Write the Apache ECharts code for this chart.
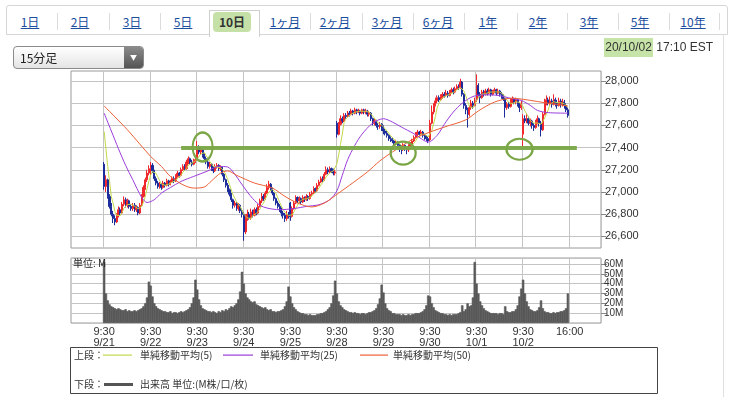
<!DOCTYPE html>
<html>
<head>
<meta charset="utf-8">
<script src="https://cdn.jsdelivr.net/npm/echarts@6/dist/echarts.min.js"></script>
<style>
  * { margin: 0; padding: 0; }
  body { background: #fff; }
  #wrap { position: relative; width: 736px; height: 397px; overflow: hidden; font-family: "Liberation Sans", "Noto Sans CJK JP", sans-serif; }
  #main { position: absolute; left: 0; top: 0; width: 736px; height: 397px; }
  .strip { position: absolute; left: 6px; top: 5px; width: 720px; height: 28px; border: 1px solid #d6d6d6; border-radius: 3px 3px 0 0; background: #fff; }
  .sep { position: absolute; top: 13px; width: 1px; height: 17px; background: #dcdcdc; }
  .act { position: absolute; left: 209px; top: 10px; width: 49px; height: 26px; background: #fff; border: 1px solid #cfcfcf; border-bottom: none; }
  .hl10 { position: absolute; left: 213px; top: 12px; width: 38px; height: 20px; background: rgba(160, 205, 110, .6); border-radius: 4px; }
  .tab { position: absolute; top: 15px; font-size: 12px; line-height: 14px; color: #1d4f9e; text-decoration: underline; transform: translateX(-50%); white-space: nowrap; font-family: "Noto Sans CJK JP", sans-serif; }
  .tab.on { color: #333; text-decoration: none; font-weight: bold; }
  .panel { position: absolute; left: 723px; top: 34px; width: 1px; height: 370px; background: #e0e0e0; }
  .dd { position: absolute; left: 13px; top: 46px; width: 129px; height: 21px; border: 1px solid #8a8a8a; border-radius: 4px; background: linear-gradient(#ffffff, #e4e4e4); font-size: 12px; line-height: 21px; color: #222; font-family: "Noto Sans CJK JP", sans-serif; }
  .dd span { position: absolute; left: 6px; }
  .dd b { position: absolute; right: 0; top: 0; width: 19px; height: 21px; border-radius: 0 3px 3px 0; background: linear-gradient(#8a8a8a, #555); color: #fff; font-size: 7px; text-align: center; line-height: 21px; font-weight: normal; }
  .date { position: absolute; right: 23px; top: 40px; font-size: 12px; line-height: 14px; color: #333; }
  .date span { background: rgba(160, 210, 110, .6); padding: 2px 1px 3px 1px; }
</style>
</head>
<body>
<div id="wrap">
  <div id="main"></div>
  <div class="strip"></div>
  <div class="panel"></div>
  <div class="sep" style="left:57px"></div><div class="sep" style="left:109px"></div>
  <div class="sep" style="left:160px"></div><div class="sep" style="left:310px"></div>
  <div class="sep" style="left:362px"></div><div class="sep" style="left:413px"></div>
  <div class="sep" style="left:464px"></div><div class="sep" style="left:517px"></div>
  <div class="sep" style="left:567px"></div><div class="sep" style="left:618px"></div>
  <div class="sep" style="left:669px"></div><div class="sep" style="left:719px"></div>
  <div class="act"></div>
  <div class="hl10"></div>
  <span class="tab" style="left:30px">1日</span>
  <span class="tab" style="left:80px">2日</span>
  <span class="tab" style="left:132px">3日</span>
  <span class="tab" style="left:183px">5日</span>
  <span class="tab on" style="left:232px">10日</span>
  <span class="tab" style="left:285px">1ヶ月</span>
  <span class="tab" style="left:335px">2ヶ月</span>
  <span class="tab" style="left:387px">3ヶ月</span>
  <span class="tab" style="left:438px">6ヶ月</span>
  <span class="tab" style="left:488px">1年</span>
  <span class="tab" style="left:538px">2年</span>
  <span class="tab" style="left:589px">3年</span>
  <span class="tab" style="left:640px">5年</span>
  <span class="tab" style="left:693px">10年</span>
  <div class="dd"><span>15分足</span><b>▼</b></div>
  <div class="date"><span>20/10/02</span> 17:10 EST</div>
</div>
<script>
  // 日付ラベル(各日 9:30 始まり、15分足 26本)
  var dayLabels = ['9/21', '9/22', '9/23', '9/24', '9/25', '9/28', '9/29', '9/30', '10/1', '10/2'];
  var barsPerDay = 26;
  var padBars = 18;

  // 15分足 [始値, 終値, 安値, 高値]
  var ohlc_0921 = [[27250,27050,27020,27270],[27050,27110,27000,27150],[27110,26960,26940,27120],[26960,26870,26850,26980],[26870,26800,26780,26900],[26800,26760,26720,26830],[26760,26730,26700,26790],[26730,26790,26720,26810],[26790,26840,26770,26870],[26840,26810,26790,26860],[26810,26890,26800,26910],[26890,26930,26870,26960],[26930,26880,26860,26950],[26880,26920,26860,26940],[26920,26870,26850,26930],[26870,26850,26830,26890],[26850,26880,26830,26900],[26880,26840,26820,26900],[26840,26860,26820,26880],[26860,26810,26790,26870],[26810,26880,26800,26900],[26880,26960,26870,26980],[26960,27040,26950,27060],[27040,27110,27020,27130],[27110,27170,27090,27200],[27170,27210,27150,27240]];
  var ohlc_0922 = [[27210,27240,27150,27270],[27240,27190,27170,27260],[27190,27120,27100,27200],[27120,27080,27060,27140],[27080,27050,27030,27100],[27050,27070,27030,27090],[27070,27040,27020,27080],[27040,27080,27030,27100],[27080,27060,27040,27090],[27060,27100,27050,27120],[27100,27070,27050,27110],[27070,27090,27060,27110],[27090,27120,27080,27140],[27120,27100,27080,27140],[27100,27140,27090,27160],[27140,27170,27130,27190],[27170,27150,27130,27180],[27150,27200,27140,27220],[27200,27230,27190,27250],[27230,27210,27190,27250],[27210,27270,27200,27290],[27270,27300,27250,27320],[27300,27270,27250,27310],[27270,27250,27230,27290],[27250,27280,27240,27300],[27280,27290,27260,27310]];
  var ohlc_0923 = [[27290,27400,27280,27460],[27400,27360,27340,27420],[27360,27380,27340,27400],[27380,27330,27310,27390],[27330,27300,27280,27350],[27300,27270,27250,27320],[27270,27230,27210,27290],[27230,27250,27210,27270],[27250,27210,27190,27260],[27210,27190,27170,27230],[27190,27230,27180,27250],[27230,27240,27210,27260],[27240,27210,27190,27250],[27210,27220,27190,27240],[27220,27160,27140,27230],[27160,27110,27090,27170],[27110,27060,27040,27120],[27060,27020,27000,27080],[27020,26980,26960,27030],[26980,26930,26910,26990],[26930,26880,26850,26940],[26880,26900,26860,26920],[26900,26850,26830,26910],[26850,26880,26830,26900],[26880,26830,26810,26890],[26830,26800,26770,26850]];
  var ohlc_0924 = [[26800,26640,26560,26820],[26640,26760,26620,26800],[26760,26800,26740,26840],[26800,26770,26750,26820],[26770,26820,26750,26850],[26820,26790,26770,26840],[26790,26840,26780,26860],[26840,26810,26790,26860],[26810,26870,26800,26890],[26870,26920,26860,26940],[26920,26960,26900,26990],[26960,26940,26920,26980],[26940,26990,26930,27010],[26990,27040,26980,27070],[27040,27070,27020,27100],[27070,27030,27010,27080],[27030,26990,26970,27040],[26990,26940,26920,27000],[26940,26900,26880,26950],[26900,26870,26850,26920],[26870,26840,26820,26890],[26840,26810,26780,26860],[26810,26790,26760,26830],[26790,26760,26730,26810],[26760,26800,26740,26830],[26800,26780,26760,26820]];
  var ohlc_0925 = [[26900,26780,26740,26910],[26780,26850,26770,26870],[26850,26900,26840,26920],[26900,26950,26890,26970],[26950,26920,26900,26960],[26920,26940,26900,26960],[26940,26910,26890,26950],[26910,26950,26900,26970],[26950,26930,26910,26960],[26930,26960,26920,26980],[26960,26940,26920,26970],[26940,26980,26930,27000],[26980,26990,26960,27010],[26990,27030,26980,27050],[27030,27010,26990,27040],[27010,27060,27000,27080],[27060,27090,27050,27110],[27090,27120,27080,27140],[27120,27110,27090,27140],[27110,27160,27100,27180],[27160,27200,27150,27230],[27200,27180,27160,27220],[27180,27210,27170,27230],[27210,27190,27170,27220],[27190,27170,27150,27210],[27170,27180,27150,27200]];
  var ohlc_0928 = [[27620,27520,27490,27640],[27520,27610,27510,27630],[27610,27660,27600,27690],[27660,27640,27620,27680],[27640,27690,27630,27710],[27690,27680,27660,27710],[27680,27710,27670,27730],[27710,27700,27680,27730],[27700,27730,27690,27750],[27730,27710,27690,27740],[27710,27740,27700,27760],[27740,27720,27700,27750],[27720,27730,27710,27750],[27730,27710,27690,27740],[27710,27740,27700,27750],[27740,27720,27700,27750],[27720,27730,27700,27750],[27730,27700,27680,27740],[27700,27710,27680,27730],[27710,27660,27640,27720],[27660,27620,27600,27670],[27620,27640,27600,27660],[27640,27600,27580,27650],[27600,27590,27560,27620],[27590,27610,27570,27630],[27610,27570,27550,27620]];
  var ohlc_0929 = [[27570,27550,27520,27600],[27550,27530,27510,27570],[27530,27510,27490,27550],[27510,27480,27460,27520],[27480,27470,27450,27500],[27470,27460,27440,27490],[27460,27440,27420,27470],[27440,27450,27420,27470],[27450,27420,27390,27460],[27420,27400,27360,27430],[27400,27390,27340,27420],[27390,27420,27370,27440],[27420,27400,27370,27430],[27400,27380,27340,27410],[27380,27410,27360,27430],[27410,27430,27390,27450],[27430,27460,27420,27480],[27460,27490,27450,27510],[27490,27520,27480,27540],[27520,27540,27500,27560],[27540,27520,27500,27550],[27520,27540,27510,27560],[27540,27510,27490,27550],[27510,27490,27470,27520],[27490,27480,27460,27510],[27480,27460,27440,27500]];
  var ohlc_0930 = [[27470,27620,27460,27650],[27620,27720,27610,27780],[27720,27780,27700,27800],[27780,27820,27770,27850],[27820,27850,27800,27870],[27850,27830,27810,27870],[27830,27860,27820,27880],[27860,27880,27840,27900],[27880,27870,27850,27900],[27870,27890,27860,27920],[27890,27870,27850,27910],[27870,27900,27860,27920],[27900,27920,27890,27940],[27920,27900,27880,27940],[27900,27930,27890,27950],[27930,27950,27920,27970],[27950,27940,27920,27970],[27940,27990,27930,28020],[27990,27880,27860,28000],[27880,27780,27750,27890],[27780,27740,27700,27800],[27740,27700,27580,27760],[27700,27760,27680,27780],[27760,27800,27740,27830],[27800,27780,27750,27820],[27780,27820,27770,27850]];
  var ohlc_1001 = [[27830,27960,27810,28060],[27960,27880,27860,27980],[27880,27850,27800,27900],[27850,27900,27840,27920],[27900,27880,27860,27920],[27880,27910,27870,27930],[27910,27890,27870,27930],[27890,27920,27880,27940],[27920,27880,27860,27930],[27880,27900,27870,27920],[27900,27920,27890,27940],[27920,27890,27870,27930],[27890,27910,27880,27930],[27910,27880,27860,27920],[27880,27870,27840,27900],[27870,27840,27820,27880],[27840,27760,27670,27850],[27760,27790,27740,27810],[27790,27770,27750,27810],[27770,27820,27760,27840],[27820,27840,27800,27860],[27840,27810,27790,27850],[27810,27830,27790,27850],[27830,27790,27770,27840],[27790,27760,27720,27800],[27760,27800,27740,27820]];
  var ohlc_1002 = [[27520,27660,27410,27700],[27660,27640,27620,27690],[27640,27660,27620,27700],[27660,27620,27600,27680],[27620,27640,27590,27660],[27640,27600,27570,27650],[27600,27580,27550,27620],[27580,27630,27570,27650],[27630,27660,27610,27690],[27660,27620,27590,27670],[27620,27560,27500,27640],[27560,27700,27550,27720],[27700,27800,27690,27840],[27800,27830,27780,27870],[27830,27800,27780,27850],[27800,27820,27780,27860],[27820,27790,27760,27840],[27790,27830,27780,27880],[27830,27800,27770,27850],[27800,27780,27750,27830],[27780,27820,27770,27850],[27820,27790,27760,27840],[27790,27810,27770,27840],[27810,27780,27750,27830],[27780,27740,27720,27800],[27740,27690,27670,27760]];

  // 出来高 (M)
  var vol_0921 = [62,30,23,19,17,16,15,14,15,14,13,13,14,12,13,12,12,13,12,13,14,15,17,20,26,42];
  var vol_0922 = [38,27,20,17,15,14,13,12,12,11,11,12,10,11,11,10,11,12,11,12,13,14,16,20,26,44];
  var vol_0923 = [34,24,18,15,14,13,12,12,11,12,11,10,12,11,13,12,14,13,15,17,16,18,20,24,32,52];
  var vol_0924 = [40,30,26,24,22,21,22,19,18,17,16,15,16,14,13,14,12,12,11,12,12,13,14,17,22,37];
  var vol_0925 = [27,20,16,14,12,11,10,10,9,9,8,9,8,8,8,9,9,10,10,11,12,14,16,20,28,43];
  var vol_0928 = [30,22,18,16,14,13,12,11,11,10,11,10,10,9,10,10,9,10,11,11,12,13,15,19,25,39];
  var vol_0929 = [31,20,15,13,12,10,10,9,9,9,8,9,8,8,9,8,9,9,10,10,10,11,12,14,18,28];
  var vol_0930 = [27,20,16,13,12,11,10,10,9,9,8,9,8,9,9,9,10,11,18,12,14,20,17,18,26,62];
  var vol_1001 = [40,30,22,18,15,13,12,11,10,10,10,10,9,10,10,9,17,12,11,11,12,12,14,18,27,35];
  var vol_1002 = [44,30,22,17,14,13,12,12,13,16,23,15,12,11,11,10,10,11,10,11,11,12,12,13,15,30];

  // 移動平均 (チャートから読み取り) [本数, 値]
  var ma5Start = [27545, 27390, 27230, 27100];
  var ma25Points = [[0,27710],[4,27550],[8,27390],[12,27240],[16,27110],[21,26950],[24,26905],[28,26930],[32,26990],[37,27040],[43,27095],[50,27140],[58,27190],[64,27230],[69,27225],[73,27160],[76,27090],[80,27000],[83,26940],[87,26880],[91,26855],[98,26840],[106,26850],[113,26870],[120,26885],[126,26930],[130,27010],[133,27150],[136,27290],[140,27420],[144,27520],[150,27620],[156,27660],[161,27630],[166,27585],[173,27525],[178,27470],[181,27450],[186,27510],[190,27610],[195,27720],[200,27800],[206,27860],[212,27875],[220,27870],[228,27840],[233,27825],[238,27780],[242,27735],[248,27715],[259,27710]];
  var ma50Points = [[0,27775],[13,27560],[26,27320],[32,27230],[37,27140],[44,27065],[50,27035],[56,27045],[60,27100],[65,27170],[69,27190],[74,27150],[84,27080],[94,27035],[101,26960],[108,26900],[116,26865],[123,26900],[131,26990],[137,27060],[147,27180],[154,27280],[161,27360],[173,27480],[182,27540],[191,27590],[202,27650],[209,27730],[218,27810],[228,27845],[234,27835],[242,27815],[250,27795],[259,27775]];

  var priceTicks = [26600, 26800, 27000, 27200, 27400, 27600, 27800, 28000];
  var supportLevel = 27400;

  var ohlc = [].concat(ohlc_0921, ohlc_0922, ohlc_0923, ohlc_0924, ohlc_0925, ohlc_0928, ohlc_0929, ohlc_0930, ohlc_1001, ohlc_1002);
  var volume = [].concat(vol_0921, vol_0922, vol_0923, vol_0924, vol_0925, vol_0928, vol_0929, vol_0930, vol_1001, vol_1002);

  var nBars = dayLabels.length * barsPerDay;
  var nCat = nBars + padBars * 2;
  var cats = [];
  for (var i = 0; i < nCat; i++) cats.push('c' + i);
  var dayStart = dayLabels.map(function (d, k) { return padBars + k * barsPerDay; });
  var closeIdx = padBars + nBars;
  function isMark(idx) { return dayStart.indexOf(idx) >= 0 || idx === closeIdx; }

  function pad(arr) {
    var out = [];
    for (var i = 0; i < padBars; i++) out.push('-');
    out = out.concat(arr);
    for (var j = 0; j < padBars; j++) out.push('-');
    return out;
  }

  var closes = ohlc.map(function (d) { return d[1]; });
  var ma5 = closes.map(function (c, i) {
    if (i < 4) return ma5Start[i];
    var s = 0;
    for (var k = i - 4; k <= i; k++) s += closes[k];
    return Math.round(s / 5);
  });
  function shift(pts) { return pts.map(function (p) { return [p[0] + padBars, p[1]]; }); }

  var fontNum = '"Liberation Sans", Arial, sans-serif';
  var fontJp = '"Noto Sans CJK JP", sans-serif';
  var green = '#7aa646';
  var c5 = '#c3d84a', c25 = '#9b3ddc', c50 = '#ee6038';

  var mycharts = echarts.init(document.getElementById('main'));
  var option = {
    animation: false,
    grid: [
      { left: 71, top: 71, width: 530, height: 177, show: true, borderColor: '#9a9a9a', borderWidth: 1, backgroundColor: '#fff' },
      { left: 71, top: 258, width: 530, height: 65, show: true, borderColor: '#9a9a9a', borderWidth: 1, backgroundColor: '#fff' }
    ],
    xAxis: [
      {
        type: 'category', gridIndex: 0, data: cats,
        axisLine: { show: false }, axisTick: { show: false }, axisLabel: { show: false },
        splitLine: { show: true, interval: function (i) { return isMark(i); }, lineStyle: { color: '#c4c4c4' } }
      },
      {
        type: 'category', gridIndex: 1, data: cats,
        axisLine: { show: false }, axisTick: { show: false },
        splitLine: { show: true, interval: function (i) { return isMark(i); }, lineStyle: { color: '#c4c4c4' } },
        axisLabel: {
          interval: function (i) { return isMark(i); },
          formatter: function (v, i) {
            var k = dayStart.indexOf(i);
            if (k >= 0) return '9:30\n' + dayLabels[k];
            if (i === closeIdx) return '16:00';
            return '';
          },
          color: '#333', fontSize: 11, lineHeight: 11, margin: 3, fontFamily: fontNum
        }
      }
    ],
    yAxis: [
      {
        type: 'value', gridIndex: 0, position: 'right', min: 26495, max: 28090,
        axisLine: { show: false },
        axisTick: { show: true, length: 5, customValues: priceTicks, lineStyle: { color: '#888' } },
        axisLabel: {
          customValues: priceTicks, color: '#333', fontSize: 11, margin: 4, fontFamily: fontNum,
          formatter: function (v) { return v.toLocaleString('en-US'); }
        },
        splitLine: { show: true, lineStyle: { color: '#c4c4c4' } }
      },
      {
        type: 'value', gridIndex: 1, position: 'right', min: 0, max: 66, interval: 10,
        axisLine: { show: false },
        axisTick: { show: true, length: 6, lineStyle: { color: '#888' } },
        axisLabel: {
          color: '#333', fontSize: 10, margin: 3, fontFamily: fontNum, showMinLabel: false, showMaxLabel: false,
          formatter: function (v) { return v + 'M'; }
        },
        splitLine: { show: true, lineStyle: { color: '#c4c4c4' } }
      }
    ],
    series: [
      {
        name: 'price', type: 'candlestick', xAxisIndex: 0, yAxisIndex: 0,
        data: pad(ohlc), barWidth: 1.6,
        itemStyle: { color: '#f0282c', color0: '#1c2c9a', borderColor: '#f0282c', borderColor0: '#1c2c9a', borderWidth: 1 },
        markLine: {
          silent: true, symbol: 'none', label: { show: false },
          lineStyle: { color: green, width: 4, type: 'solid', opacity: 0.95 },
          data: [[{ coord: [61, supportLevel] }, { coord: [282, supportLevel] }]]
        },
        markPoint: {
          silent: true, label: { show: false },
          symbol: 'path://M0,50 A50,50 0 1,1 100,50 A50,50 0 1,1 0,50 Z',
          itemStyle: { color: 'rgba(0,0,0,0)', borderColor: green, borderWidth: 2.2 },
          data: [
            { coord: [73, 27405], symbolSize: [20, 29] },
            { coord: [185, 27350], symbolSize: [25, 23] },
            { coord: [250, 27385], symbolSize: [26, 21] }
          ]
        }
      },
      { name: '単純移動平均(5)', type: 'line', xAxisIndex: 0, yAxisIndex: 0, data: pad(ma5), showSymbol: false, lineStyle: { color: c5, width: 1 }, z: 3 },
      { name: '単純移動平均(25)', type: 'line', xAxisIndex: 0, yAxisIndex: 0, data: shift(ma25Points), showSymbol: false, smooth: 0.3, lineStyle: { color: c25, width: 1 }, z: 3 },
      { name: '単純移動平均(50)', type: 'line', xAxisIndex: 0, yAxisIndex: 0, data: shift(ma50Points), showSymbol: false, smooth: 0.3, lineStyle: { color: c50, width: 1 }, z: 3 },
      {
        name: '出来高', type: 'bar', xAxisIndex: 1, yAxisIndex: 1, data: pad(volume),
        barWidth: 2.4, barCategoryGap: '0%',
        itemStyle: { color: '#595959', borderColor: '#595959', borderWidth: 0.6 }
      }
    ],
    graphic: [
      { type: 'text', left: 73, top: 258, z: 100, style: { text: '単位: M', fontSize: 10, fontFamily: fontJp, fill: '#222' } },
      { type: 'rect', z: 100, shape: { x: 70.5, y: 347.5, width: 587, height: 46 }, style: { fill: '#fff', stroke: '#444', lineWidth: 1 } },
      { type: 'text', z: 101, x: 74, y: 355, style: { text: '上段：', fontSize: 10, fontFamily: fontJp, fill: '#333', verticalAlign: 'middle' } },
      { type: 'rect', z: 102, shape: { x: 103, y: 354.5, width: 29, height: 1.2 }, style: { fill: c5 } },
      { type: 'text', z: 101, x: 140, y: 355, style: { text: '単純移動平均(5)', fontSize: 10, fontFamily: fontJp, fill: '#333', verticalAlign: 'middle' } },
      { type: 'rect', z: 102, shape: { x: 223, y: 354.5, width: 30, height: 1.2 }, style: { fill: c25 } },
      { type: 'text', z: 101, x: 260, y: 355, style: { text: '単純移動平均(25)', fontSize: 10, fontFamily: fontJp, fill: '#333', verticalAlign: 'middle' } },
      { type: 'rect', z: 102, shape: { x: 360, y: 354.5, width: 28, height: 1.2 }, style: { fill: c50 } },
      { type: 'text', z: 101, x: 393, y: 355, style: { text: '単純移動平均(50)', fontSize: 10, fontFamily: fontJp, fill: '#333', verticalAlign: 'middle' } },
      { type: 'text', z: 101, x: 74, y: 384, style: { text: '下段：', fontSize: 10, fontFamily: fontJp, fill: '#333', verticalAlign: 'middle' } },
      { type: 'rect', z: 102, shape: { x: 104, y: 383, width: 29, height: 3 }, style: { fill: '#555' } },
      { type: 'text', z: 101, x: 140, y: 384, style: { text: '出来高 単位:(M株/口/枚)', fontSize: 10, fontFamily: fontJp, fill: '#333', verticalAlign: 'middle' } }
    ]
  };
  mycharts.clear();
  mycharts.setOption(option);
</script>
</body>
</html>
